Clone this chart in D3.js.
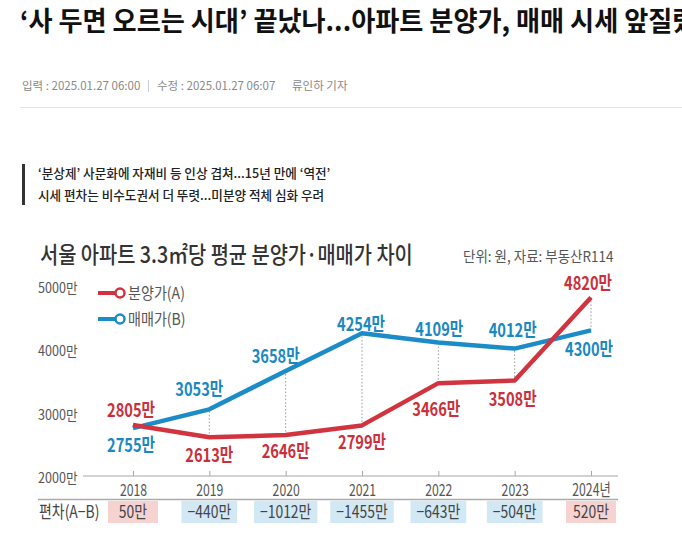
<!DOCTYPE html>
<html>
<head>
<meta charset="utf-8">
<script src="https://cdn.jsdelivr.net/npm/d3@7"></script>
<style>
  html, body { margin: 0; padding: 0; background: #fff; }
  svg { display: block; }
  text { font-family: "Noto Sans CJK KR", "Noto Sans", sans-serif; }
</style>
</head>
<body>
<svg id="chart" width="682" height="536"></svg>
<script>
// ---- data ----
const years = ["2018", "2019", "2020", "2021", "2022", "2023", "2024"];
const yearLabels = ["2018", "2019", "2020", "2021", "2022", "2023", "2024년"];
const presalePrice = [2805, 2613, 2646, 2799, 3466, 3508, 4820]; // 분양가(A), 만원
const marketPrice = [2755, 3053, 3658, 4254, 4109, 4012, 4300];  // 매매가(B), 만원
const yTicks = [2000, 3000, 4000, 5000];

// label placement (offset from the point, px) - layout only
const offsetA = [[-2, -15], [0, 18], [0, 16], [0, 17], [-2, 26], [-2, 19], [-3, -14]];
const offsetB = [[-2, 17], [-10, -20], [-10, -15], [-1, -9], [1, -13], [-2, -18], [-2, 19]];

const red = "#d1343f";
const blue = "#1b8cc7";
const redText = "#c9303b";
const blueText = "#1a88c1";

const svg = d3.select("#chart");
svg.append("rect").attr("width", 682).attr("height", 536).attr("fill", "#fff");

// condensed text helper (the infographic font is narrow)
function ctext(g, x, y, str, o) {
    const t = g.append("text")
        .attr("transform", `translate(${x},${y}) scale(${o.sx || 1},1)`)
        .attr("dy", o.dy || "0.35em")
        .attr("text-anchor", o.anchor || "start")
        .attr("font-size", o.size)
        .attr("font-weight", o.weight || 400)
        .attr("fill", o.fill || "#333")
        .text(str);
    return t;
}

// ---- article header ----
// headline runs past the right edge, as in the original page crop
ctext(svg, 20, 22, "‘사 두면 오르는 시대’ 끝났나...아파트 분양가, 매매 시세 앞질렀다",
    {size: 27, weight: 700, fill: "#111", sx: 0.97});

const meta = svg.append("g");
ctext(meta, 22, 86, "입력 : 2025.01.27 06:00", {size: 11.5, fill: "#888"});
svg.append("line").attr("x1", 148.5).attr("x2", 148.5).attr("y1", 80).attr("y2", 92)
    .attr("stroke", "#ccc");
ctext(meta, 157, 86, "수정 : 2025.01.27 06:07", {size: 11.5, fill: "#888"});
ctext(meta, 292, 86, "류인하 기자", {size: 11.5, fill: "#888"});
svg.append("line").attr("x1", 20).attr("x2", 682).attr("y1", 107.5).attr("y2", 107.5)
    .attr("stroke", "#e3e3e3");

// sub headline
svg.append("rect").attr("x", 22).attr("y", 164).attr("width", 3).attr("height", 41).attr("fill", "#333");
ctext(svg, 38, 173, "‘분상제’ 사문화에 자재비 등 인상 겹쳐...15년 만에 ‘역전’", {size: 13, weight: 500, fill: "#222", sx: 0.97});
ctext(svg, 38, 195, "시세 편차는 비수도권서 더 뚜렷...미분양 적체 심화 우려", {size: 13, weight: 500, fill: "#222", sx: 0.97});

// ---- chart ----
ctext(svg, 40, 255, "서울 아파트 3.3㎡당 평균 분양가·매매가 차이", {size: 23, weight: 500, fill: "#333", sx: 0.86});
ctext(svg, 463, 257, "단위: 원, 자료: 부동산R114", {size: 15, fill: "#555", sx: 0.9});

const x = d3.scalePoint().domain(years).range([133, 591]);
const y = d3.scaleLinear().domain([2000, 5000]).range([476, 286]);

// y tick labels
const yAxis = svg.append("g");
yTicks.forEach(v => {
    ctext(yAxis, 38, y(v) + 2, v + "만", {size: 14, fill: "#555", sx: 0.9});
});

// x axis (ticks point up, labels below)
svg.append("line").attr("x1", 83).attr("x2", 618).attr("y1", 476).attr("y2", 476)
    .attr("stroke", "#a8a8a8").attr("stroke-width", 1.2);
const xAxis = svg.append("g")
    .attr("transform", "translate(0,476)")
    .call(d3.axisBottom(x).tickSize(-5).tickSizeOuter(0).tickPadding(8)
        .tickFormat((d, i) => yearLabels[i]));
xAxis.select(".domain").remove();
xAxis.selectAll(".tick line").attr("stroke", "#a8a8a8");
xAxis.selectAll(".tick text")
    .attr("font-size", 17)
    .attr("fill", "#555")
    .attr("font-family", "'Noto Sans CJK KR', sans-serif")
    .attr("transform", "scale(0.72,1)");

// dotted connectors between the two series
const conn = svg.append("g");
years.forEach((yr, i) => {
    conn.append("line")
        .attr("x1", x(yr)).attr("x2", x(yr))
        .attr("y1", y(presalePrice[i])).attr("y2", y(marketPrice[i]))
        .attr("stroke", "#999").attr("stroke-width", 1).attr("stroke-dasharray", "1.5,2");
});

const line = d3.line().x((d, i) => x(years[i])).y(d => y(d));

svg.append("path").datum(marketPrice)
    .attr("d", line).attr("fill", "none").attr("stroke", blue)
    .attr("stroke-width", 4.5).attr("stroke-linejoin", "round");
svg.append("path").datum(presalePrice)
    .attr("d", line).attr("fill", "none").attr("stroke", red)
    .attr("stroke-width", 4.5).attr("stroke-linejoin", "round");

// value labels
const labels = svg.append("g");
presalePrice.forEach((v, i) => {
    ctext(labels, x(years[i]) + offsetA[i][0], y(v) + offsetA[i][1], v + "만",
        {size: 19, weight: 700, fill: redText, sx: 0.77, anchor: "middle"});
});
marketPrice.forEach((v, i) => {
    ctext(labels, x(years[i]) + offsetB[i][0], y(v) + offsetB[i][1], v + "만",
        {size: 19, weight: 700, fill: blueText, sx: 0.77, anchor: "middle"});
});

// legend
const legend = svg.append("g");
[["분양가(A)", red, 293], ["매매가(B)", blue, 319]].forEach(([name, col, ly]) => {
    legend.append("line").attr("x1", 98).attr("x2", 116).attr("y1", ly).attr("y2", ly)
        .attr("stroke", col).attr("stroke-width", 4);
    legend.append("circle").attr("cx", 120).attr("cy", ly).attr("r", 4.5)
        .attr("fill", "#fff").attr("stroke", col).attr("stroke-width", 2.5);
    ctext(legend, 128, ly, name, {size: 16, fill: "#555", sx: 0.88});
});

// deviation row
svg.append("line").attr("x1", 38).attr("x2", 618).attr("y1", 499.5).attr("y2", 499.5)
    .attr("stroke", "#aaa").attr("stroke-width", 1.5);
ctext(svg, 39, 512, "편차(A−B)", {size: 17, fill: "#444", sx: 0.82});

const gapRow = svg.append("g");
years.forEach((yr, i) => {
    const gap = presalePrice[i] - marketPrice[i];
    const str = (gap < 0 ? "−" + Math.abs(gap) : gap) + "만";
    const box = gapRow.append("rect").attr("y", 501).attr("height", 22)
        .attr("fill", gap < 0 ? "#d2e8f5" : "#f6d2d1");
    const t = ctext(gapRow, x(yr), 512, str, {size: 17, fill: "#444", sx: 0.82, anchor: "middle"});
    const w = Math.max(t.node().getComputedTextLength() * 0.82 + 12, 50);
    box.attr("x", x(yr) - w / 2).attr("width", w);
});
</script>
</body>
</html>
